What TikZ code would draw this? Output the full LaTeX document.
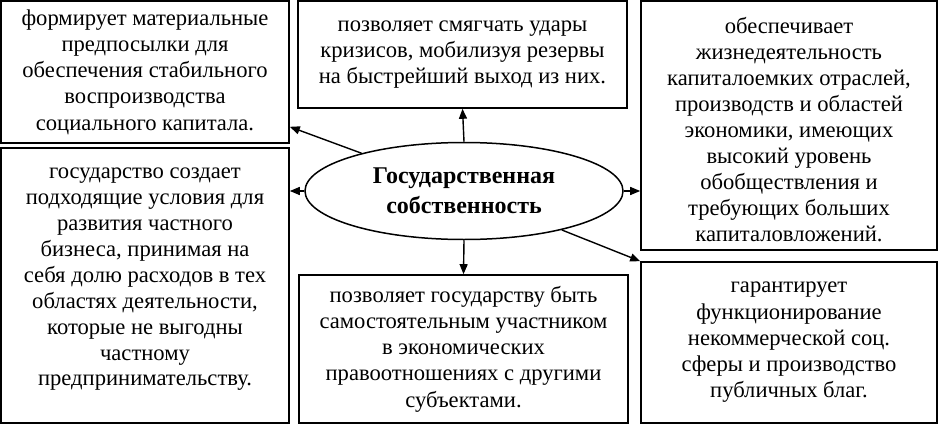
\documentclass[tikz,border=0pt]{standalone}
\usepackage{fontspec}
\setmainfont{Liberation Serif}
\usetikzlibrary{arrows.meta,shapes.geometric,calc}
\begin{document}
\begin{tikzpicture}[x=1pt,y=-1pt,
  box/.style={draw,line width=1.6pt,inner sep=0pt,align=center,font=\fontsize{22.6}{26.2}\selectfont},
  txt/.style={inner sep=0pt,align=center,font=\fontsize{22.6}{25.9}\selectfont},
  arr/.style={line width=1.4pt,-{Triangle[length=10pt,width=8pt]}}]
\useasboundingbox (0,0) rectangle (941,425);
\node[box,minimum width=288pt,minimum height=142pt] (b1) at (145,72)
  {формирует материальные\\предпосылки для\\обеспечения стабильного\\воспроизводства\\социального капитала.};
\node[box,minimum width=329pt,minimum height=107pt] (b2) at (462.5,54.5)
  {позволяет смягчать удары\\кризисов, мобилизуя резервы\\на быстрейший выход из них.};
\node[box,minimum width=296pt,minimum height=249pt] (b3) at (789,125.5) {};
\node[txt] (t3) at ([yshift=-4pt]b3.center)
  {обеспечивает\\жизнедеятельность\\капиталоемких отраслей,\\производств и областей\\экономики, имеющих\\высокий уровень\\обобществления и\\требующих больших\\капиталовложений.};
\node[box,minimum width=288pt,minimum height=275pt] (b4) at (145,285.5) {};
\node[txt] (t4) at ([yshift=6pt]b4.center)
  {государство создает\\подходящие условия для\\развития частного\\бизнеса, принимая на\\себя долю расходов в тех\\областях деятельности,\\которые не выгодны\\частному\\предпринимательству.};
\node[box,minimum width=296pt,minimum height=161pt] (b5) at (789,342.5)
  {гарантирует\\функционирование\\некоммерческой соц.\\сферы и производство\\публичных благ.};
\node[box,minimum width=329pt,minimum height=148pt] (b6) at (463.5,349)
  {позволяет государству быть\\самостоятельным участником\\в экономических\\правоотношениях с другими\\субъектами.};
\node[draw,ellipse,line width=1.5pt,minimum width=318pt,minimum height=97pt,inner sep=0pt,align=center,
  font=\fontsize{24}{30}\selectfont\bfseries] (e) at (464,191) {Государственная\\собственность};
\draw[arr] (e.north) -- (b2.south);
\draw[arr] (e.south) -- (b6.north);
\draw[arr] (e.west) -- (e.west -| b4.east);
\draw[arr] (e.east) -- (e.east -| b3.west);
\draw[arr] (e) -- ([yshift=17pt]b1.south east);
\draw[arr] (e) -- (b5.north west);
\end{tikzpicture}
\end{document}
